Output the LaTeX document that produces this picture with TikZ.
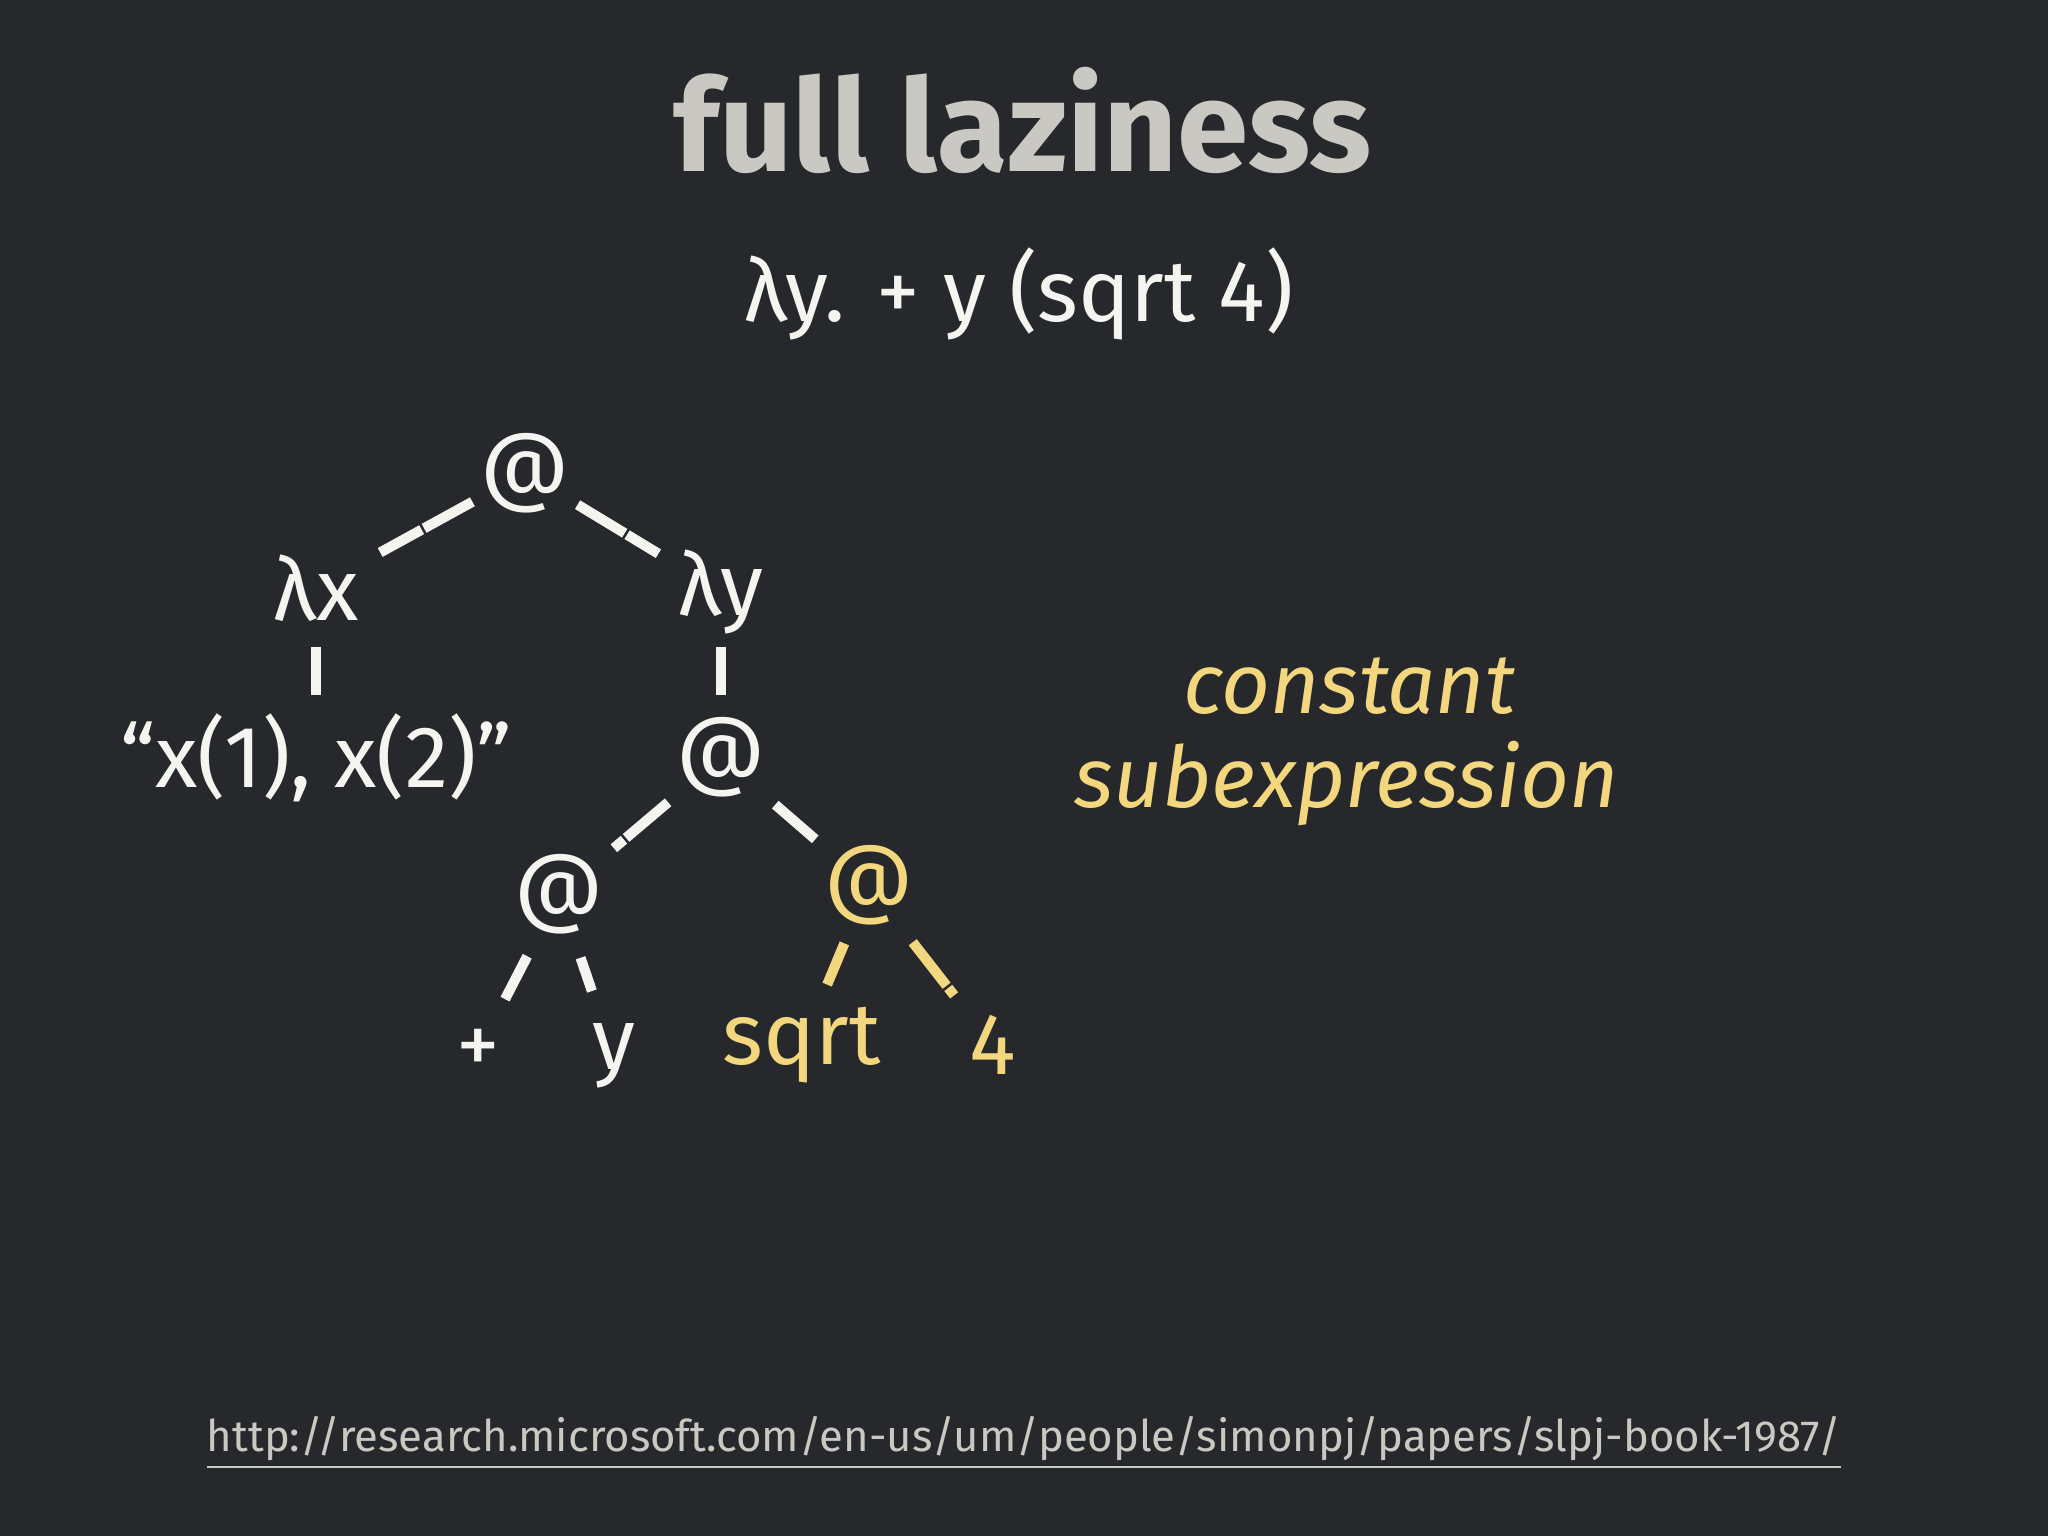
\documentclass[tikz,border=0pt]{standalone}
\usepackage{fontspec}
\setmainfont{Fira Sans}
\definecolor{bg}{HTML}{27282B}
\definecolor{chalk}{HTML}{F4F4F0}
\definecolor{yel}{HTML}{F3D77E}
\definecolor{ttl}{HTML}{C9C8C2}
\tikzset{
 lbl/.style={font=\fontsize{19}{22}\selectfont, text=chalk, inner sep=0pt},
 ylbl/.style={lbl, text=yel},
 chalkline/.style={draw=chalk, line width=2.2pt, dash pattern=on 12pt off 0.6pt},
 ychalk/.style={chalkline, draw=yel}
}
\begin{document}
\begin{tikzpicture}[x=0.01cm,y=-0.01cm]
\fill[bg] (0,0) rectangle (1568,1176);
\useasboundingbox (0,0) rectangle (1568,1176);
\node[font=\fontsize{28}{32}\selectfont\bfseries, text=ttl] (title) at (783,92) {full laziness};
\node[lbl] (expr) at (780,225) {λy. + y (sqrt 4)};
\node[lbl] (a1) at (402,362) {@};
\node[lbl] (lx) at (242,450) {λx};
\node[lbl] (ly) at (552,453) {λy};
\node[lbl] (str) at (242,580) {“x(1), x(2)”};
\node[lbl] (a2) at (552,580) {@};
\node[lbl] (a3) at (428,685) {@};
\node[ylbl] (ay) at (665,678) {@};
\node[lbl] (plus) at (366,805) {+};
\node[lbl] (y) at (470,808) {y};
\node[ylbl] (sqrt) at (614,800) {sqrt};
\node[ylbl] (four) at (760,800) {4};
\node[font=\fontsize{18.5}{22}\selectfont\itshape, text=yel, inner sep=0pt] (c1) at (1033,525) {constant};
\node[font=\fontsize{18.5}{22}\selectfont\itshape, text=yel, inner sep=0pt] (c2) at (1031,600) {subexpression};
\node[font=\fontsize{9.5}{11}\selectfont, text=ttl, inner sep=0pt] (url) at (784,1105) {\underline{http://research.microsoft.com/en-us/um/people/simonpj/papers/slpj-book-1987/}};
\draw[chalkline, shorten <=0.46cm, shorten >=0.56cm] (a1.center) -- (lx.center);
\draw[chalkline, shorten <=0.47cm, shorten >=0.56cm] (a1.center) -- (ly.center);
\draw[chalkline, shorten <=0.45cm, shorten >=0.48cm] (lx.center) -- (str.center);
\draw[chalkline, shorten <=0.42cm, shorten >=0.48cm] (ly.center) -- (a2.center);
\draw[chalkline, shorten <=0.53cm, shorten >=0.55cm] (a2.center) -- (a3.center);
\draw[chalkline, shorten <=0.55cm, shorten >=0.54cm] (a2.center) -- (ay.center);
\draw[chalkline, shorten <=0.53cm, shorten >=0.45cm] (a3.center) -- (plus.center);
\draw[chalkline, shorten <=0.51cm, shorten >=0.52cm] (a3.center) -- (y.center);
\draw[ychalk, shorten <=0.48cm, shorten >=0.50cm] (ay.center) -- (sqrt.center);
\draw[ychalk, shorten <=0.55cm, shorten >=0.48cm] (ay.center) -- (four.center);
\end{tikzpicture}
\end{document}
